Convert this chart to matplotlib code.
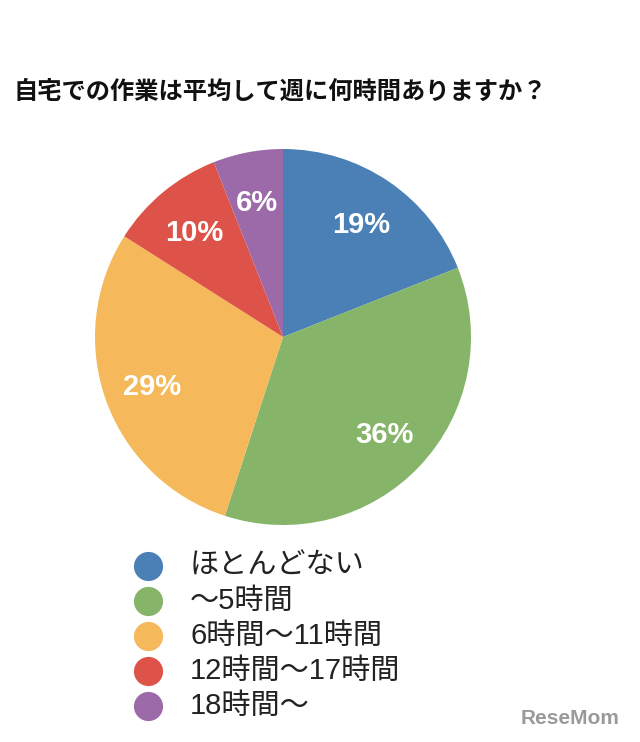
import matplotlib
matplotlib.use("Agg")
import matplotlib.pyplot as plt
from matplotlib.lines import Line2D

title = "自宅での作業は平均して週に何時間ありますか？"
categories = ["ほとんどない", "〜5時間", "6時間〜11時間", "12時間〜17時間", "18時間〜"]
values = [19, 36, 29, 10, 6]
colors = ["#4a80b5", "#86b468", "#f5b95b", "#de5349", "#9c6aa8"]

plt.rcParams['font.family'] = ['Noto Sans CJK JP', 'DejaVu Sans']

W, H = 640, 742
fig = plt.figure(figsize=(W/100, H/100), dpi=100)
fig.patch.set_facecolor("white")

cx, cy, r = 283, 337, 188
ax = fig.add_axes([(cx - r)/W, (H - cy - r)/H, 2*r/W, 2*r/H])
wedges, texts = ax.pie(values, colors=colors, startangle=90, counterclock=False,
                       labels=[f"{v}%" for v in values], labeldistance=0.74,
                       wedgeprops=dict(linewidth=0),
                       textprops=dict(color="white", fontsize=21, fontweight="bold",
                                      family=["Liberation Sans", "DejaVu Sans"]))
for t in texts:
    t.set_ha("center"); t.set_va("center_baseline")
ax.set_aspect("equal")
ax.set_xlim(-1, 1); ax.set_ylim(-1, 1)

fig.text(280/W, 1 - 92/H, title, ha="center", va="center", fontsize=17.5,
         fontweight="bold", color="#111111")

y0, dy = 566, 35
for i, (c, lab) in enumerate(zip(colors, categories)):
    y = 1 - (y0 + i*dy)/H
    fig.add_artist(Line2D([148/W], [y], marker="o", markersize=21, color=c,
                          markeredgewidth=0, transform=fig.transFigure))
    fig.text(190/W, y, lab, ha="left", va="center", fontsize=21, color="#222222",
             family=["Liberation Sans", "Noto Sans CJK JP", "DejaVu Sans"])

fig.text(570/W, 1 - 718/H, "ReseMom", ha="center", va="center", fontsize=15,
         fontweight="bold", color="#9a9a9a", family=["Liberation Sans", "DejaVu Sans"])

fig.savefig("out.png", dpi=100)
